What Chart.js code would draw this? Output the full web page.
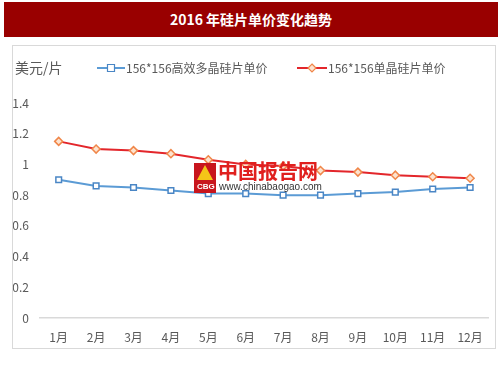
<!DOCTYPE html>
<html lang="zh">
<head>
  <meta charset="UTF-8" />
  <title>2016 年硅片单价变化趋势</title>
  <script src="https://cdn.jsdelivr.net/npm/chart.js"></script>
  <style>
    body {
      margin: 0;
      width: 503px;
      height: 378px;
      background: #fff;
      position: relative;
      overflow: hidden;
      font-family: "Noto Sans CJK SC", sans-serif;
    }
    .title {
      position: absolute;
      left: 4px;
      top: 2px;
      width: 494px;
      height: 35px;
      background: #990000;
      color: #fff;
      font-weight: bold;
      font-size: 14px;
      line-height: 35px;
      text-align: center;
    }
    .box {
      position: absolute;
      left: 12px;
      top: 45px;
      width: 482px;
      height: 302px;
      border: 1px solid #d9d9d9;
    }
  </style>
</head>
<body>
  <div class="title">2016 年硅片单价变化趋势</div>
  <div class="box"><canvas id="c" width="482" height="302"></canvas></div>

  <script>
    const months = ['1月', '2月', '3月', '4月', '5月', '6月', '7月', '8月', '9月', '10月', '11月', '12月'];
    const multiPrice = [0.90, 0.86, 0.85, 0.83, 0.81, 0.81, 0.80, 0.80, 0.81, 0.82, 0.84, 0.85];
    const monoPrice = [1.15, 1.10, 1.09, 1.07, 1.03, 1.00, 0.99, 0.96, 0.95, 0.93, 0.92, 0.91];
    const seriesNames = ['156*156高效多晶硅片单价', '156*156单晶硅片单价'];
    const unitLabel = '美元/片';

    const textColor = '#595959';
    const cjk = '"Noto Sans CJK SC", sans-serif';

    // legend + unit label + watermark drawn on the canvas
    const extras = {
      id: 'extras',
      afterDatasetsDraw(chart) {
        const c = chart.ctx;
        c.save();
        c.fillStyle = textColor;
        c.font = '14px ' + cjk;
        c.textBaseline = 'middle';
        c.fillText(unitLabel, 2, 22);

        const items = [{ x: 84, w: 28 }, { x: 284, w: 30 }];
        chart.data.datasets.forEach((ds, i) => {
          const it = items[i];
          c.strokeStyle = ds.borderColor;
          c.lineWidth = 2;
          c.beginPath();
          c.moveTo(it.x, 22);
          c.lineTo(it.x + it.w, 22);
          c.stroke();
          const mx = it.x + it.w / 2;
          c.fillStyle = ds.pointBackgroundColor;
          c.strokeStyle = ds.pointBorderColor;
          c.lineWidth = 1.2;
          c.beginPath();
          if (ds.pointStyle === 'rect') {
            c.rect(mx - 3.5, 22 - 3.5, 7, 7);
          } else {
            c.moveTo(mx, 18); c.lineTo(mx + 4, 22); c.lineTo(mx, 26); c.lineTo(mx - 4, 22); c.closePath();
          }
          c.fill();
          c.stroke();
          c.fillStyle = textColor;
          c.font = '12px ' + cjk;
          c.fillText(ds.label, it.x + it.w + 1, 22);
        });

        // watermark
        c.fillStyle = '#c8161d';
        c.fillRect(181, 117, 22, 30);
        c.fillStyle = '#f5c518';
        c.beginPath();
        c.moveTo(192, 119); c.lineTo(200, 134); c.lineTo(184, 134); c.closePath();
        c.fill();
        c.fillStyle = '#fff';
        c.font = 'bold 8px Arial';
        c.fillText('CBG', 184, 141);
        c.fillStyle = '#e0201e';
        c.font = 'bold 20px ' + cjk;
        c.fillText('中国报告网', 205, 125);
        c.fillStyle = '#333';
        c.font = '10px Arial';
        c.fillText('www.chinabaogao.com', 206, 141);
        c.restore();
      }
    };

    new Chart(document.getElementById('c'), {
      type: 'line',
      data: {
        labels: months,
        datasets: [
          {
            label: seriesNames[0],
            data: multiPrice,
            borderColor: '#5b9bd5',
            borderWidth: 2,
            pointStyle: 'rect',
            pointRadius: 4,
            pointBackgroundColor: '#ffffff',
            pointBorderColor: '#4a86c5',
            pointBorderWidth: 1.5,
            tension: 0
          },
          {
            label: seriesNames[1],
            data: monoPrice,
            borderColor: '#e3262b',
            borderWidth: 2,
            pointStyle: 'rectRot',
            pointRadius: 4,
            pointBackgroundColor: '#fde3cf',
            pointBorderColor: '#f0874a',
            pointBorderWidth: 1.5,
            tension: 0
          }
        ]
      },
      options: {
        responsive: false,
        animation: false,
        layout: { padding: { top: 57, right: 1, left: 0, bottom: 0 } },
        plugins: {
          legend: { display: false },
          tooltip: { enabled: false }
        },
        scales: {
          x: {
            offset: true,
            grid: { display: false, drawTicks: false },
            border: { display: true, color: '#d9d9d9', width: 1.5 },
            ticks: {
              color: textColor,
              font: { family: cjk, size: 12 },
              padding: 12,
              maxRotation: 0,
              autoSkip: false
            },
            afterFit(s) { s.height = 30; }
          },
          y: {
            min: 0,
            max: 1.4,
            grid: { display: false, drawTicks: false },
            border: { display: false },
            ticks: {
              stepSize: 0.2,
              color: textColor,
              font: { family: cjk, size: 12 },
              padding: 11,
              callback: v => Math.round(v * 10) / 10
            },
            afterFit(s) { s.width = 27; }
          }
        }
      },
      plugins: [extras]
    });
  </script>
</body>
</html>
